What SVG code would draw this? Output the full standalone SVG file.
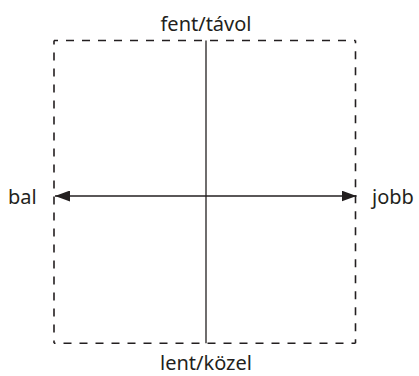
<svg xmlns="http://www.w3.org/2000/svg" width="419" height="376" viewBox="0 0 419 376">
  <style>
    .lbl { font-family: "Noto Sans", "Open Sans", sans-serif; font-size: 20px; fill: #231f20; }
    .frame { fill: none; stroke: #231f20; stroke-width: 1.6; stroke-dasharray: 8 8; stroke-dashoffset: 4; }
    .axis { stroke: #231f20; stroke-width: 1.3; fill: none; }
  </style>
  <defs>
    <marker id="head" viewBox="0 0 15 11" refX="15" refY="5.5" markerWidth="15" markerHeight="11" markerUnits="userSpaceOnUse" orient="auto-start-reverse">
      <path d="M0,0 L15,5.5 L0,11 Z" fill="#231f20"/>
    </marker>
  </defs>
  <g id="frame">
    <line class="frame" x1="54" y1="40.5" x2="355.5" y2="40.5"/>
    <line class="frame" x1="54" y1="40.5" x2="54" y2="343.3"/>
    <line class="frame" x1="355.5" y1="343.3" x2="355.5" y2="40.5"/>
    <line class="frame" x1="355.5" y1="343.3" x2="54" y2="343.3"/>
  </g>
  <g id="connectors">
    <line class="axis" x1="206" y1="40.5" x2="206" y2="343.3"/>
    <line class="axis" x1="55" y1="196" x2="356.5" y2="196" marker-start="url(#head)" marker-end="url(#head)"/>
  </g>
  <g id="top"><text class="lbl" x="206" y="31" text-anchor="middle">fent/távol</text></g>
  <g id="bottom"><text class="lbl" x="206" y="370" text-anchor="middle">lent/közel</text></g>
  <g id="left"><text class="lbl" x="8" y="204">bal</text></g>
  <g id="right"><text class="lbl" x="372" y="204">jobb</text></g>
</svg>
